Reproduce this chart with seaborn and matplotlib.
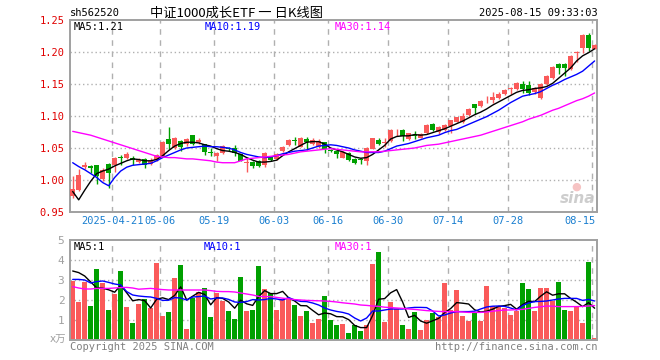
import matplotlib
matplotlib.use("Agg")
import matplotlib.pyplot as plt
import matplotlib.transforms as mtrans
import numpy as np
import pandas as pd
import seaborn as sns

# ---------------- data ----------------
opens = [0.975, 0.985, 1.021, 1.022, 1.024, 1.001, 1.025, 1.024, 1.036, 1.035,
         1.035, 1.028, 1.033, 1.025, 1.031, 1.038, 1.064, 1.050, 1.061, 1.057,
         1.070, 1.060, 1.056, 1.043, 1.037, 1.042, 1.050, 1.050, 1.040, 1.027,
         1.028, 1.030, 1.023, 1.037, 1.033, 1.045, 1.054, 1.062, 1.052, 1.064,
         1.057, 1.051, 1.059, 1.046, 1.046, 1.035, 1.042, 1.033, 1.033, 1.030,
         1.049, 1.063, 1.058, 1.061, 1.079, 1.078, 1.064, 1.070, 1.066, 1.073,
         1.088, 1.075, 1.078, 1.084, 1.091, 1.090, 1.102, 1.118, 1.116, 1.126,
         1.125, 1.128, 1.134, 1.142, 1.142, 1.150, 1.149, 1.137, 1.128, 1.150,
         1.159, 1.182, 1.182, 1.174, 1.199, 1.206, 1.227, 1.205]
closes = [0.986, 1.008, 1.023, 1.018, 1.006, 1.016, 1.011, 1.035, 1.035, 1.040,
          1.032, 1.032, 1.024, 1.030, 1.039, 1.060, 1.057, 1.066, 1.052, 1.064,
          1.057, 1.063, 1.044, 1.042, 1.042, 1.053, 1.048, 1.042, 1.030, 1.028,
          1.022, 1.022, 1.042, 1.031, 1.040, 1.052, 1.063, 1.061, 1.066, 1.059,
          1.063, 1.061, 1.048, 1.045, 1.041, 1.043, 1.032, 1.026, 1.032, 1.050,
          1.065, 1.057, 1.059, 1.078, 1.080, 1.069, 1.073, 1.069, 1.072, 1.086,
          1.078, 1.083, 1.086, 1.093, 1.098, 1.100, 1.111, 1.112, 1.124, 1.127,
          1.129, 1.135, 1.141, 1.143, 1.152, 1.142, 1.136, 1.144, 1.150, 1.163,
          1.177, 1.175, 1.175, 1.194, 1.200, 1.227, 1.207, 1.211]
highs = [1.007, 1.017, 1.028, 1.023, 1.024, 1.018, 1.027, 1.036, 1.039, 1.043,
         1.038, 1.034, 1.034, 1.035, 1.041, 1.061, 1.083, 1.067, 1.062, 1.066,
         1.071, 1.066, 1.057, 1.050, 1.043, 1.055, 1.052, 1.054, 1.041, 1.034,
         1.030, 1.031, 1.043, 1.038, 1.042, 1.053, 1.064, 1.067, 1.067, 1.067,
         1.065, 1.064, 1.060, 1.049, 1.047, 1.045, 1.044, 1.034, 1.035, 1.051,
         1.066, 1.066, 1.065, 1.079, 1.080, 1.079, 1.074, 1.077, 1.073, 1.087,
         1.089, 1.084, 1.088, 1.094, 1.099, 1.105, 1.113, 1.119, 1.125, 1.132,
         1.138, 1.137, 1.142, 1.146, 1.153, 1.154, 1.154, 1.146, 1.152, 1.164,
         1.178, 1.183, 1.183, 1.196, 1.201, 1.228, 1.229, 1.212]
lows = [0.972, 0.983, 1.017, 1.011, 0.994, 0.999, 0.988, 1.012, 1.024, 1.033,
        1.024, 1.026, 1.018, 1.023, 1.030, 1.037, 1.049, 1.049, 1.046, 1.053,
        1.055, 1.057, 1.039, 1.038, 1.030, 1.041, 1.046, 1.038, 1.029, 1.012,
        1.019, 1.020, 1.020, 1.030, 1.031, 1.044, 1.053, 1.055, 1.051, 1.047,
        1.055, 1.050, 1.042, 1.043, 1.034, 1.034, 1.030, 1.025, 1.025, 1.024,
        1.048, 1.055, 1.051, 1.060, 1.069, 1.061, 1.063, 1.064, 1.065, 1.072,
        1.076, 1.072, 1.077, 1.074, 1.090, 1.089, 1.100, 1.103, 1.114, 1.121,
        1.121, 1.127, 1.133, 1.135, 1.141, 1.136, 1.133, 1.135, 1.127, 1.149,
        1.158, 1.166, 1.162, 1.172, 1.184, 1.199, 1.201, 1.204]
ma5 = [0.982, 0.969, 0.984, 0.998, 1.010, 1.014, 1.017, 1.022, 1.026, 1.030,
       1.033, 1.032, 1.030, 1.030, 1.032, 1.038, 1.046, 1.053, 1.057, 1.059,
       1.059, 1.058, 1.055, 1.053, 1.049, 1.046, 1.045, 1.043, 1.040, 1.035,
       1.031, 1.028, 1.028, 1.029, 1.031, 1.038, 1.044, 1.049, 1.054, 1.059,
       1.060, 1.060, 1.056, 1.050, 1.047, 1.044, 1.040, 1.036, 1.034, 1.035,
       1.040, 1.047, 1.054, 1.064, 1.068, 1.069, 1.069, 1.071, 1.070, 1.071,
       1.074, 1.077, 1.080, 1.084, 1.088, 1.092, 1.097, 1.102, 1.106, 1.111,
       1.117, 1.122, 1.127, 1.132, 1.137, 1.140, 1.141, 1.143, 1.144, 1.146,
       1.151, 1.159, 1.167, 1.175, 1.186, 1.194, 1.199, 1.205]
ma10 = [1.027, 1.021, 1.016, 1.010, 1.004, 0.996, 0.991, 1.004, 1.014, 1.020,
        1.023, 1.024, 1.025, 1.026, 1.030, 1.035, 1.039, 1.043, 1.047, 1.050,
        1.051, 1.052, 1.053, 1.052, 1.052, 1.051, 1.050, 1.047, 1.043, 1.040,
        1.038, 1.036, 1.035, 1.036, 1.038, 1.041, 1.043, 1.045, 1.046, 1.047,
        1.050, 1.053, 1.054, 1.055, 1.054, 1.052, 1.050, 1.047, 1.045, 1.043,
        1.043, 1.043, 1.045, 1.049, 1.053, 1.055, 1.057, 1.060, 1.063, 1.066,
        1.068, 1.070, 1.074, 1.077, 1.079, 1.083, 1.087, 1.091, 1.095, 1.099,
        1.104, 1.109, 1.115, 1.121, 1.126, 1.131, 1.133, 1.135, 1.138, 1.143,
        1.148, 1.152, 1.157, 1.161, 1.165, 1.170, 1.178, 1.186]
ma30 = [1.076, 1.074, 1.072, 1.070, 1.067, 1.064, 1.061, 1.058, 1.055, 1.052,
        1.049, 1.046, 1.043, 1.040, 1.037, 1.036, 1.035, 1.035, 1.034, 1.033,
        1.033, 1.032, 1.031, 1.030, 1.028, 1.027, 1.027, 1.027, 1.030, 1.033,
        1.034, 1.035, 1.036, 1.037, 1.038, 1.039, 1.040, 1.042, 1.044, 1.045,
        1.046, 1.047, 1.048, 1.049, 1.048, 1.047, 1.046, 1.045, 1.044, 1.044,
        1.044, 1.044, 1.045, 1.046, 1.047, 1.048, 1.049, 1.050, 1.052, 1.054,
        1.055, 1.056, 1.058, 1.060, 1.062, 1.064, 1.066, 1.068, 1.070, 1.073,
        1.076, 1.079, 1.082, 1.085, 1.088, 1.091, 1.095, 1.098, 1.101, 1.105,
        1.109, 1.112, 1.116, 1.120, 1.124, 1.127, 1.131, 1.136]
volumes = [2.97, 1.92, 2.92, 1.70, 3.55, 2.87, 1.50, 2.32, 3.45, 1.65,
           0.87, 1.82, 2.05, 1.60, 3.87, 1.20, 1.40, 3.10, 3.75, 0.57,
           2.12, 2.38, 2.60, 1.15, 2.33, 1.93, 1.47, 1.05, 3.15, 1.47,
           1.50, 3.70, 2.55, 2.37, 1.50, 2.03, 2.12, 1.75, 1.20, 1.45,
           0.87, 1.05, 2.20, 1.00, 0.75, 0.80, 0.35, 0.75, 0.47, 0.75,
           3.82, 4.40, 0.92, 1.92, 1.53, 0.75, 0.55, 1.40, 0.50, 1.02,
           1.35, 1.15, 2.85, 1.48, 2.50, 1.20, 0.95, 1.40, 0.95, 2.70,
           1.68, 1.68, 1.60, 1.25, 1.47, 2.85, 2.55, 1.47, 2.60, 2.60,
           1.97, 2.90, 1.50, 1.45, 1.65, 0.85, 3.92, 0.10]
vol_ma5 = [3.45, 3.37, 3.20, 2.90, 2.61, 2.59, 2.51, 2.39, 2.74, 2.36,
           1.96, 2.02, 1.97, 1.60, 2.04, 2.11, 2.02, 2.23, 2.66, 2.00,
           2.19, 2.38, 2.28, 1.76, 2.12, 2.08, 1.90, 1.59, 1.99, 1.81,
           1.73, 2.17, 2.47, 2.32, 2.32, 2.43, 2.11, 1.95, 1.72, 1.71,
           1.48, 1.26, 1.35, 1.31, 1.17, 1.16, 1.02, 0.73, 0.62, 0.62,
           1.23, 2.04, 2.07, 2.36, 2.52, 1.90, 1.13, 1.23, 0.95, 0.84,
           0.96, 1.08, 1.37, 1.57, 1.87, 1.84, 1.80, 1.51, 1.40, 1.44,
           1.54, 1.68, 1.72, 1.78, 1.54, 1.77, 1.94, 1.92, 2.19, 2.41,
           2.24, 2.31, 2.31, 2.08, 1.89, 1.67, 1.87, 1.59]
vol_ma10 = [3.03, 3.03, 3.00, 2.85, 2.92, 2.95, 2.88, 2.80, 2.75, 2.42,
            2.25, 2.20, 2.17, 2.15, 2.08, 1.98, 1.99, 2.12, 2.10, 2.00,
            2.15, 2.17, 2.20, 2.05, 2.10, 2.10, 2.03, 1.90, 1.88, 1.92,
            2.02, 2.00, 2.02, 2.08, 2.05, 2.00, 2.12, 2.00, 1.93, 1.92,
            1.85, 1.75, 1.60, 1.50, 1.43, 1.38, 1.30, 1.10, 0.95, 1.10,
            1.45, 1.45, 1.50, 1.55, 1.55, 1.55, 1.60, 1.63, 1.63, 1.62,
            1.45, 1.20, 1.25, 1.35, 1.42, 1.42, 1.42, 1.44, 1.55, 1.65,
            1.69, 1.70, 1.68, 1.60, 1.50, 1.72, 1.85, 1.92, 1.93, 1.95,
            2.00, 2.05, 2.08, 2.08, 2.08, 1.98, 2.03, 1.95]
vol_ma30 = [2.67, 2.60, 2.55, 2.55, 2.58, 2.58, 2.58, 2.60, 2.62, 2.63,
            2.60, 2.54, 2.56, 2.58, 2.55, 2.52, 2.50, 2.50, 2.50, 2.50,
            2.50, 2.50, 2.50, 2.47, 2.43, 2.42, 2.42, 2.40, 2.35, 2.30,
            2.25, 2.18, 2.17, 2.17, 2.13, 2.09, 2.06, 2.02, 2.00, 1.98,
            1.97, 1.96, 1.95, 1.93, 1.90, 1.86, 1.83, 1.80, 1.75, 1.73,
            1.70, 1.68, 1.64, 1.62, 1.60, 1.58, 1.55, 1.53, 1.50, 1.47,
            1.45, 1.43, 1.42, 1.42, 1.42, 1.40, 1.38, 1.38, 1.38, 1.40,
            1.44, 1.47, 1.50, 1.50, 1.52, 1.53, 1.58, 1.63, 1.66, 1.70,
            1.69, 1.67, 1.67, 1.67, 1.67, 1.68, 1.70, 1.72]
date_labels = ["2025-04-21", "05-06", "05-19", "06-03", "06-16", "06-30", "07-14", "07-28", "08-15"]
date_index = [7, 15, 24, 34, 43, 53, 63, 73, 87]
price_ticks = [0.95, 1.00, 1.05, 1.10, 1.15, 1.20, 1.25]
vol_ticks = [1, 2, 3, 4, 5]

# ---------------- styling ----------------
sns.set_style("white")
plt.rcParams["font.family"] = ["DejaVu Sans Mono", "Noto Sans CJK SC"]

RED = "#fa5a5a"
GREEN = "#00a000"
GRID = "#b0b0b0"
FRAME = "#a0a0a0"
W, H = 660, 360

fig = plt.figure(figsize=(6.6, 3.6), dpi=100)
fig.patch.set_facecolor("white")

def fx(px):
    return px / W

def fy(py):
    return 1 - py / H

ax1 = fig.add_axes([fx(70), fy(212), fx(597) - fx(70), fy(20) - fy(212)])
ax2 = fig.add_axes([fx(70), fy(340), fx(597) - fx(70), fy(240) - fy(340)])

n = len(closes)
idx = np.arange(n)
df = pd.DataFrame({"i": idx, "open": opens, "close": closes, "high": highs,
                   "low": lows, "ma5": ma5, "ma10": ma10, "ma30": ma30,
                   "vol": volumes, "vma5": vol_ma5, "vma10": vol_ma10, "vma30": vol_ma30})
up = df["close"] >= df["open"]
colors = np.where(up, RED, GREEN)

xmin, xmax = -0.45, 87.4
for ax in (ax1, ax2):
    ax.set_xlim(xmin, xmax)
    for s in ax.spines.values():
        s.set_color(FRAME)
        s.set_linewidth(1.4)
    ax.tick_params(length=0)
    for di in date_index:
        ax.axvline(di - 0.38, color=GRID, lw=1.0, ls=(0, (4, 4)), zorder=0)

# ---- price panel ----
ax1.set_ylim(0.95, 1.25)
for t in price_ticks[1:-1]:
    ax1.axhline(t, color=GRID, lw=1.0, ls=(0, (1, 2)), zorder=0)

ax1.vlines(df["i"], df["low"], df["high"], colors=colors, lw=1.0, zorder=2)
body_bottom = np.minimum(df["open"], df["close"])
body_h = np.maximum(np.abs(df["close"] - df["open"]), 0.0012)
ax1.bar(df["i"], body_h, bottom=body_bottom, width=0.8, color=colors,
        edgecolor=colors, linewidth=0, zorder=3)

sns.lineplot(data=df, x="i", y="ma5", ax=ax1, color="black", lw=1.0, zorder=4, legend=False)
sns.lineplot(data=df, x="i", y="ma10", ax=ax1, color="#0000ff", lw=1.0, zorder=4, legend=False)
sns.lineplot(data=df, x="i", y="ma30", ax=ax1, color="#ff00ff", lw=1.0, zorder=4, legend=False)

ax1.set_yticks(price_ticks)
ax1.set_yticklabels([f"{t:.2f}" for t in price_ticks], color="#e00000", fontsize=7.5)
ax1.tick_params(axis="y", pad=4)
ax1.set_xticks([])
ax1.set_xlabel("")
ax1.set_ylabel("")

trans1 = mtrans.blended_transform_factory(ax1.transData, fig.transFigure)
for lab, di in zip(date_labels, date_index):
    if di == date_index[-1]:
        ax1.text(xmax - 0.3, fy(221), lab, transform=trans1, ha="right", va="center",
                 color="#1a7fd0", fontsize=7.5)
    else:
        ax1.text(di - 0.38, fy(221), lab, transform=trans1, ha="center", va="center",
                 color="#1a7fd0", fontsize=7.5)

# ---- volume panel ----
ax2.set_ylim(0, 5)
for t in vol_ticks[:-1]:
    ax2.axhline(t, color=GRID, lw=1.0, ls=(0, (1, 2)), zorder=0)
ax2.bar(df["i"], df["vol"], width=0.85, color=colors, linewidth=0, zorder=2)
sns.lineplot(data=df, x="i", y="vma5", ax=ax2, color="black", lw=1.0, zorder=4, legend=False)
sns.lineplot(data=df, x="i", y="vma10", ax=ax2, color="#0000ff", lw=1.0, zorder=4, legend=False)
sns.lineplot(data=df, x="i", y="vma30", ax=ax2, color="#ff00ff", lw=1.0, zorder=4, legend=False)
ax2.set_yticks(vol_ticks)
ax2.set_yticklabels([str(t) for t in vol_ticks], color="#a0a0a0", fontsize=8)
ax2.tick_params(axis="y", pad=4)
ax2.set_xticks([])
ax2.set_xlabel("")
ax2.set_ylabel("")

# ---- texts ----
mono = "DejaVu Sans Mono"
fig.text(fx(70), fy(13), "sh562520", fontsize=7.5, family=mono, ha="left", va="center", color="black")
fig.text(fx(150), fy(13), "中证1000成长ETF 一 日K线图", fontsize=9.5,
         family=["Noto Sans CJK SC", "DejaVu Sans"], ha="left", va="center", color="black")
fig.text(fx(598), fy(13), "2025-08-15 09:33:03", fontsize=7.5, family=mono, ha="right", va="center", color="black")

fig.text(fx(74), fy(26.5), "MA5:1.21", fontsize=7.5, family=mono, ha="left", va="center", color="black")
fig.text(fx(205), fy(26.5), "MA10:1.19", fontsize=7.5, family=mono, ha="left", va="center", color="#0000ff")
fig.text(fx(335), fy(26.5), "MA30:1.14", fontsize=7.5, family=mono, ha="left", va="center", color="#ff00ff")

fig.text(fx(74), fy(246.5), "MA5:1", fontsize=7.5, family=mono, ha="left", va="center", color="black")
fig.text(fx(204), fy(246.5), "MA10:1", fontsize=7.5, family=mono, ha="left", va="center", color="#0000ff")
fig.text(fx(335), fy(246.5), "MA30:1", fontsize=7.5, family=mono, ha="left", va="center", color="#ff00ff")

fig.text(fx(66), fy(340), "x万", fontsize=7.5, family=["DejaVu Sans", "Noto Sans CJK SC"],
         ha="right", va="center", color="#a0a0a0")
fig.text(fx(70), fy(347.5), "Copyright 2025 SINA.COM", fontsize=7.5, family=mono,
         ha="left", va="center", color="#808080")
fig.text(fx(597), fy(347.5), "http://finance.sina.com.cn", fontsize=7.5, family=mono,
         ha="right", va="center", color="#808080")

# sina watermark
fig.text(fx(578), fy(198), "sina", fontsize=11, family="DejaVu Sans", style="italic",
         weight="bold", ha="center", va="center", color="#c8c8c8", alpha=0.9)
fig.text(fx(576), fy(187), "●", fontsize=8, family="DejaVu Sans", ha="center", va="center",
         color="#f4b4b4", alpha=0.8)

fig.savefig("out.png", dpi=100, facecolor="white")
